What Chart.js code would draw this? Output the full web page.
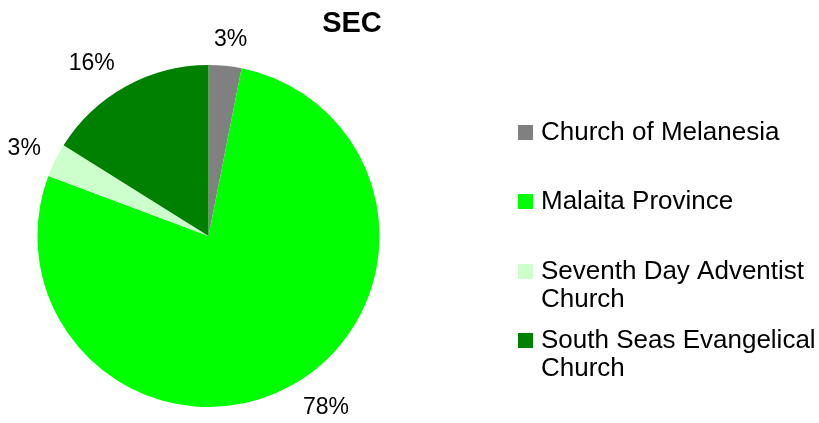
<!DOCTYPE html>
<html><head><meta charset="utf-8">
<script src="https://cdn.jsdelivr.net/npm/chart.js@4"></script>
<style>html,body{margin:0;padding:0;background:#fff}#w{position:relative;width:819px;height:423px}</style>
</head><body><div id="w"><canvas id="c" width="819" height="423"></canvas></div>
<script>
const title = "SEC";
const categories = ["Church of Melanesia", "Malaita Province", "Seventh Day Adventist Church", "South Seas Evangelical Church"];
const legendLines = [["Church of Melanesia"], ["Malaita Province"], ["Seventh Day Adventist", "Church"], ["South Seas Evangelical", "Church"]];
const values = [3.1, 77.6, 3.2, 16.1];
const colors = ["#808080", "#00FF00", "#CCFFCC", "#008000"];
const FONT = "'Liberation Sans', Arial, sans-serif";

const overlay = {
  id: 'overlay',
  afterDraw(chart) {
    const ctx = chart.ctx;
    const meta = chart.getDatasetMeta(0);
    const total = values.reduce((a, b) => a + b, 0);
    ctx.save();
    ctx.fillStyle = '#000';
    ctx.font = "bold 29px " + FONT;
    ctx.textAlign = 'center'; ctx.textBaseline = 'middle';
    ctx.fillText(title, 352, 24);
    ctx.font = "23px " + FONT;
    meta.data.forEach((arc, i) => {
      const p = arc.getProps(['x', 'y', 'startAngle', 'endAngle', 'outerRadius'], true);
      const mid = (p.startAngle + p.endAngle) / 2;
      const r = p.outerRadius + 16;
      const ax = p.x + Math.cos(mid) * r, ay = p.y + Math.sin(mid) * r;
      const txt = Math.round(values[i] / total * 100) + '%';
      const w = ctx.measureText(txt).width, h = 20;
      const sx = Math.max(-1, Math.min(1, Math.cos(mid) * 2));
      const extra = Math.abs(Math.sin(mid)) > 0.75 ? 4 : 0;
      const cx = ax + sx * (w / 2 + extra), cy = ay + Math.sin(mid) * h / 2;
      ctx.fillText(txt, cx, cy);
    });
    ctx.textAlign = 'left';
    ctx.font = "26px " + FONT;
    const rowY = [132, 201, 271, 340];
    legendLines.forEach((lines, i) => {
      ctx.fillStyle = colors[i];
      ctx.fillRect(518, rowY[i] - 7, 15, 15);
      ctx.fillStyle = '#000';
      lines.forEach((ln, j) => ctx.fillText(ln, 541, rowY[i] + j * 28 + 1));
    });
    ctx.restore();
  }
};

new Chart(document.getElementById('c'), {
  type: 'pie',
  data: { labels: categories, datasets: [{ data: values, backgroundColor: colors, borderWidth: 0 }] },
  options: {
    responsive: false, animation: false,
    layout: { padding: { left: 37, right: 439, top: 65, bottom: 16 } },
    plugins: { legend: { display: false }, title: { display: false }, tooltip: { enabled: false } }
  },
  plugins: [overlay]
});
</script></body></html>
